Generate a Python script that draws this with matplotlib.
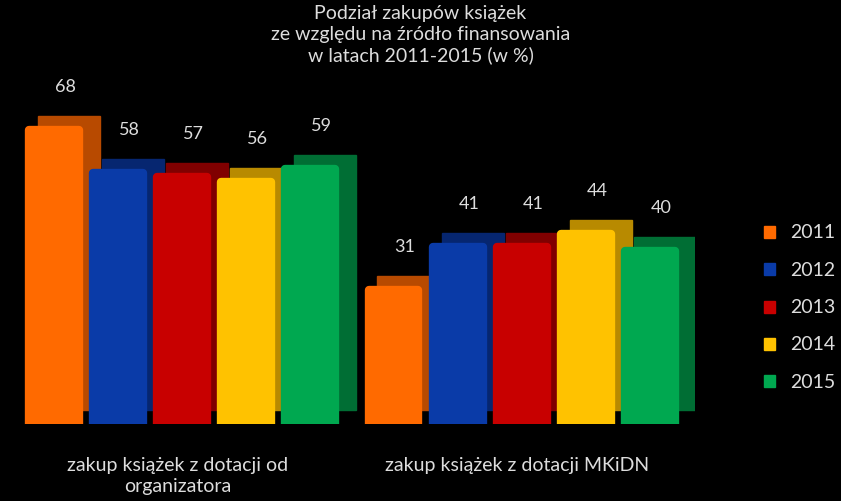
import matplotlib
matplotlib.use("Agg")
import matplotlib.pyplot as plt
import matplotlib.transforms as mtrans
import numpy as np

years = ["2011", "2012", "2013", "2014", "2015"]
categories = ["zakup książek z dotacji od\norganizatora", "zakup książek z dotacji MKiDN"]
values = {
    "2011": [68, 31],
    "2012": [58, 41],
    "2013": [57, 41],
    "2014": [56, 44],
    "2015": [59, 40],
}
colors = ["#FF6A00", "#0A3BA8", "#C80000", "#FFC200", "#00A850"]
dark = ["#B84A00", "#062670", "#800000", "#B88A00", "#006E34"]

fig = plt.figure(figsize=(8.41, 5.02), dpi=100, facecolor="black")
ax = fig.add_axes([0.026, 0.153, 0.80, 0.69], facecolor="black")
ax.set_xlim(-0.5, 10.0)
ax.set_ylim(0, 80)
ax.axis("off")

group_start = [0, 5.3]
depth = mtrans.offset_copy(ax.transData, fig=fig, x=15, y=14, units="dots")
for gi in range(2):
    for i, y in enumerate(years):
        x = group_start[gi] + i
        v = values[y][gi]
        ax.bar(x, v, width=0.97, color=dark[i], transform=depth, zorder=2 + 2 * i - 0.5 + gi * 20,
               edgecolor=dark[i])
        ax.bar(x, v, width=0.78, color=colors[i], zorder=2 + 2 * i + gi * 20, edgecolor=colors[i],
               linewidth=6, joinstyle="round")
        ax.annotate(str(v), (x, v), xytext=(8, 26), textcoords="offset points",
                    ha="center", va="bottom", color="#DDDDDD", fontsize=13, family="Lato")

for gi, c in enumerate(categories):
    fig.text((group_start[gi] + 2 + 0.5) / 10.5 * 0.80 + 0.026 - 0.005, 0.09, c, ha="center", va="top",
             color="#DDDDDD", fontsize=14, family="Lato", linespacing=1.3)

fig.text(0.5, 0.99, "Podział zakupów książek\nze względu na źródło finansowania\nw latach 2011-2015 (w %)",
         ha="center", va="top", color="#DDDDDD", fontsize=14, family="Lato", linespacing=1.25)

for i, y in enumerate(years):
    yy = 1 - (233 + 37.3 * i) / 502
    fig.patches.append(plt.Rectangle((0.918 - 0.01, yy - 0.012), 0.014, 0.024, transform=fig.transFigure,
                                     color=colors[i]))
    fig.text(0.94, yy, y, ha="left", va="center", color="#DDDDDD", fontsize=14, family="Lato")

fig.savefig("out.png", facecolor="black")
